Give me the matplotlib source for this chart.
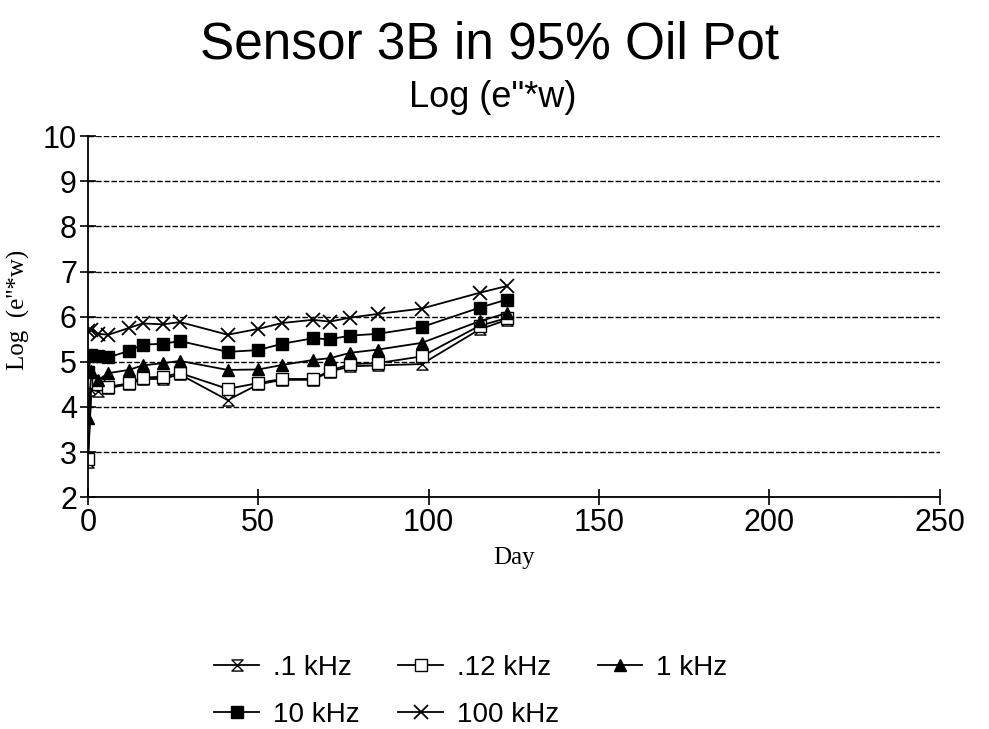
import matplotlib
matplotlib.use("Agg")
import matplotlib.pyplot as plt
from matplotlib.path import Path

# Measurement days
days = [0, 1, 3, 6, 12, 16, 22, 27, 41, 50, 57, 66, 71, 77, 85, 98, 115, 123]

# Log(e''*w) per frequency
khz_0_1 = [2.78, 4.38, 4.35, 4.42, 4.50, 4.62, 4.62, 4.72, 4.15, 4.50,
           4.60, 4.60, 4.78, 4.90, 4.92, 4.95, 5.72, 5.93]
khz_0_12 = [2.85, 4.55, 4.50, 4.45, 4.52, 4.65, 4.67, 4.75, 4.40, 4.53,
            4.62, 4.62, 4.80, 4.95, 4.97, 5.12, 5.80, 5.97]
khz_1 = [3.75, 4.80, 4.60, 4.75, 4.82, 4.92, 4.97, 5.02, 4.82, 4.83,
         4.93, 5.04, 5.08, 5.20, 5.27, 5.42, 5.90, 6.08]
khz_10 = [4.78, 5.15, 5.12, 5.10, 5.24, 5.38, 5.40, 5.46, 5.22, 5.26,
          5.40, 5.52, 5.50, 5.58, 5.62, 5.77, 6.20, 6.38]
khz_100 = [5.68, 5.70, 5.62, 5.60, 5.75, 5.85, 5.83, 5.88, 5.60, 5.73,
           5.86, 5.93, 5.89, 5.98, 6.06, 6.18, 6.53, 6.68]

labels = [".1 kHz", ".12 kHz", "1 kHz", "10 kHz", "100 kHz"]

# hourglass marker (two triangles tip to tip)
hourglass = Path([(-1, 1), (1, 1), (-1, -1), (1, -1), (-1, 1)],
                 [Path.MOVETO, Path.LINETO, Path.LINETO, Path.LINETO, Path.CLOSEPOLY])

sans = ["Liberation Sans", "DejaVu Sans"]
serif = ["Liberation Serif", "DejaVu Serif"]

fig = plt.figure(figsize=(9.89, 7.29), dpi=100)
ax = fig.add_axes([0.089, 0.318, 0.861, 0.4952])

styles = [
    (khz_0_1, dict(marker=hourglass, markersize=8, markerfacecolor="white")),
    (khz_0_12, dict(marker="s", markersize=9, markerfacecolor="white")),
    (khz_1, dict(marker="^", markersize=9, markerfacecolor="black")),
    (khz_10, dict(marker="s", markersize=8, markerfacecolor="black")),
    (khz_100, dict(marker="x", markersize=10, markeredgewidth=1.3)),
]
handles = []
for (vals, st), lab in zip(styles, labels):
    h, = ax.plot(days, vals, color="black", linewidth=1.3,
                 markeredgecolor="black", label=lab, **st)
    handles.append(h)

ax.set_xlim(0, 250)
ax.set_ylim(2, 10)
ax.set_xticks([0, 50, 100, 150, 200, 250])
ax.set_yticks(range(2, 11))
ax.yaxis.grid(True, color="black", linestyle=(0, (4, 1.5)), linewidth=1.0)
ax.set_axisbelow(True)
for s in ("top", "right"):
    ax.spines[s].set_visible(False)
for s in ("left", "bottom"):
    ax.spines[s].set_linewidth(1.3)
ax.tick_params(axis="both", direction="inout", length=12, width=1.2,
               labelsize=22, pad=2)
for t in ax.get_xticklabels() + ax.get_yticklabels():
    t.set_fontfamily(sans)

ax.set_xlabel("Day", fontsize=18, family=serif, labelpad=6)
ax.set_ylabel("Log  (e''*w)", fontsize=18, family=serif)
ax.yaxis.set_label_coords(-0.068, 0.52)

fig.text(0.495, 0.938, "Sensor 3B in 95% Oil Pot", ha="center", va="center",
         fontsize=37, family=sans)
fig.text(0.498, 0.866, 'Log (e"*w)', ha="center", va="center",
         fontsize=26, family=sans)

order = [0, 3, 1, 4, 2]
fig.legend([handles[i] for i in order], [labels[i] for i in order],
           loc="center", bbox_to_anchor=(0.476, 0.052), ncol=3, frameon=False,
           prop={"family": sans, "size": 20}, handlelength=1.6,
           columnspacing=1.4, labelspacing=0.75, handletextpad=0.5)

fig.savefig("out.png", dpi=100)
